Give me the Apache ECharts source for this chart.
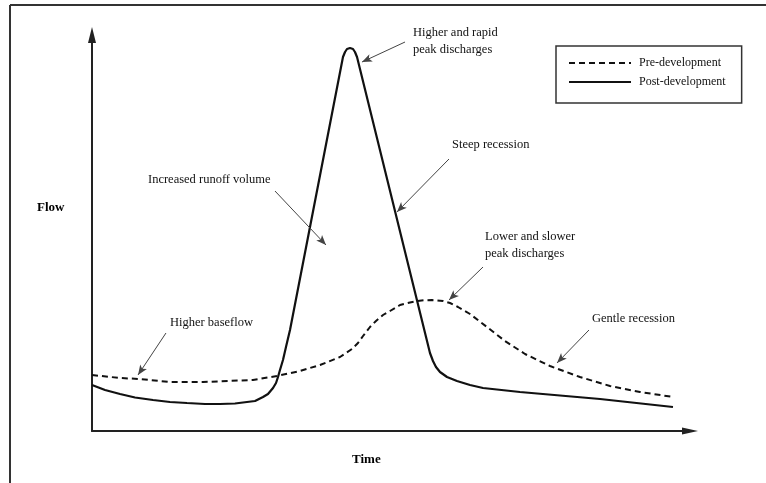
<!DOCTYPE html>
<html>
<head>
<meta charset="utf-8">
<script src="https://cdn.jsdelivr.net/npm/echarts@6/dist/echarts.min.js"></script>
<style>
html,body{margin:0;padding:0;background:#fff;}
#chart{width:766px;height:483px;}
</style>
</head>
<body>
<div id="chart"></div>
<script>
// Schematic hydrograph (relative units)
const seriesNames = ['Pre-development', 'Post-development'];

const postTime = [0, 2.17, 4.67, 7.17, 10.17, 13, 15.83, 18.83, 21.33, 23.83, 25.83, 27.17, 28.5, 29.33, 30.17, 30.67, 31, 31.33, 31.83, 32.33, 33, 41.83, 42.17, 42.5, 43, 43.5, 43.83, 44.17, 56.33, 56.83, 57.33, 58, 59.17, 60.83, 63, 65.17, 71.33, 84.67, 96.83];
const postFlow = [11.5, 10.25, 9.25, 8.375, 7.75, 7.25, 7.0, 6.75, 6.75, 6.875, 7.25, 7.5, 8.5, 9.25, 10.75, 12, 13.5, 15.25, 17.75, 21, 25.25, 93.5, 94.75, 95.5, 95.75, 95.5, 94.75, 93.5, 19.5, 17.5, 16, 14.75, 13.5, 12.5, 11.5, 10.75, 9.75, 8, 6];

const preTime = [0, 4.67, 8, 13, 18.5, 26.83, 30.83, 34.67, 38, 41.33, 43.33, 44.33, 45.17, 46.33, 47.33, 48.5, 49.67, 51.33, 53, 54.17, 55.5, 56.67, 58.5, 59.67, 61, 63, 65.83, 68.83, 72.17, 76.33, 81.33, 86.33, 91.33, 96.83];
const preFlow = [14, 13.25, 13, 12.25, 12.25, 12.75, 13.75, 15, 16.5, 18.5, 20.5, 22, 23.75, 26, 27.5, 29, 30, 31.5, 32.125, 32.5, 32.7, 32.75, 32.5, 32, 31, 29.25, 26, 22.5, 19.25, 16.25, 13.5, 11.25, 9.75, 8.5];

const noteTexts = ['Higher and rapid\npeak discharges', 'Steep recession', 'Increased runoff volume', 'Lower and slower\npeak discharges', 'Gentle recession', 'Higher baseflow'];
const noteX = [53.5, 60, 9.33, 65.5, 83.33, 13];
const noteY = [97.375, 71.5, 62.75, 46.375, 28, 27];

const arrowFromX = [52.17, 59.5, 30.5, 65.17, 82.83, 12.33];
const arrowFromY = [97.25, 68, 60, 41, 25.25, 24.5];
const arrowToX = [45, 50.83, 39, 59.5, 77.5, 7.67];
const arrowToY = [92.25, 54.75, 46.5, 32.75, 17, 14];

const xTitle = 'Time';
const yTitle = 'Flow';

const postData = postTime.map((t, i) => [t, postFlow[i]]);
const preData = preTime.map((t, i) => [t, preFlow[i]]);
const noteData = noteTexts.map((s, i) => [noteX[i], noteY[i], s]);
const arrowData = arrowFromX.map((x, i) => [
  { coord: [x, arrowFromY[i]] },
  { coord: [arrowToX[i], arrowToY[i]] }
]);

const FONT = '"Liberation Serif", "Times New Roman", serif';
const INK = '#111';

const chart = echarts.init(document.getElementById('chart'), null, { renderer: 'canvas' });
chart.setOption({
  animation: false,
  backgroundColor: '#fff',
  grid: { left: 92, right: 76, top: 35, bottom: 52, containLabel: false },
  xAxis: {
    type: 'value', min: 0, max: 99.667,
    axisLine: { show: true, onZero: false, lineStyle: { color: '#222', width: 2 }, symbol: ['none', 'triangle'], symbolSize: [7, 16] },
    axisTick: { show: false }, axisLabel: { show: false }, splitLine: { show: false }
  },
  yAxis: {
    type: 'value', min: 0, max: 99,
    axisLine: { show: true, onZero: false, lineStyle: { color: '#222', width: 2 }, symbol: ['none', 'triangle'], symbolSize: [8, 16] },
    axisTick: { show: false }, axisLabel: { show: false }, splitLine: { show: false }
  },
  legend: {
    left: 556, top: 46, orient: 'vertical',
    data: seriesNames,
    borderColor: '#333', borderWidth: 1.5, borderRadius: 0,
    padding: [11, 16, 15, 12],
    itemWidth: 62, itemHeight: 14, itemGap: 7,
    selectedMode: false,
    itemStyle: { opacity: 0 },
    textStyle: { fontFamily: FONT, fontSize: 12, color: INK, padding: [0, 0, 0, 3] }
  },
  graphic: [
    { type: 'line', shape: { x1: 10, y1: 5, x2: 766, y2: 5 }, style: { stroke: '#333', lineWidth: 2 } },
    { type: 'line', shape: { x1: 10, y1: 5, x2: 10, y2: 483 }, style: { stroke: '#333', lineWidth: 2 } },
    { type: 'text', left: 37, top: 201, style: { text: yTitle, font: 'bold 13px ' + FONT, fill: '#000' } },
    { type: 'text', left: 352, top: 453, style: { text: xTitle, font: 'bold 13px ' + FONT, fill: '#000' } }
  ],
  series: [
    {
      name: seriesNames[0], type: 'line', data: preData,
      smooth: false, symbol: 'none',
      lineStyle: { color: '#111', width: 2, type: [6, 4] },
      itemStyle: { color: '#111' }
    },
    {
      name: seriesNames[1], type: 'line', data: postData,
      smooth: false, symbol: 'none',
      lineStyle: { color: '#111', width: 2.2, type: 'solid' },
      itemStyle: { color: '#111' },
      markLine: {
        silent: true, symbol: ['none', 'arrow'], symbolSize: [6, 10],
        label: { show: false },
        lineStyle: { color: '#444', width: 1, type: 'solid' },
        data: arrowData
      }
    },
    {
      name: 'notes', type: 'scatter', data: noteData, symbolSize: 0, silent: true,
      itemStyle: { opacity: 1 },
      label: {
        show: true, position: 'right', distance: 0,
        formatter: p => p.value[2],
        fontFamily: FONT, fontSize: 12.5, lineHeight: 17, color: INK
      }
    }
  ]
});
</script>
</body>
</html>
